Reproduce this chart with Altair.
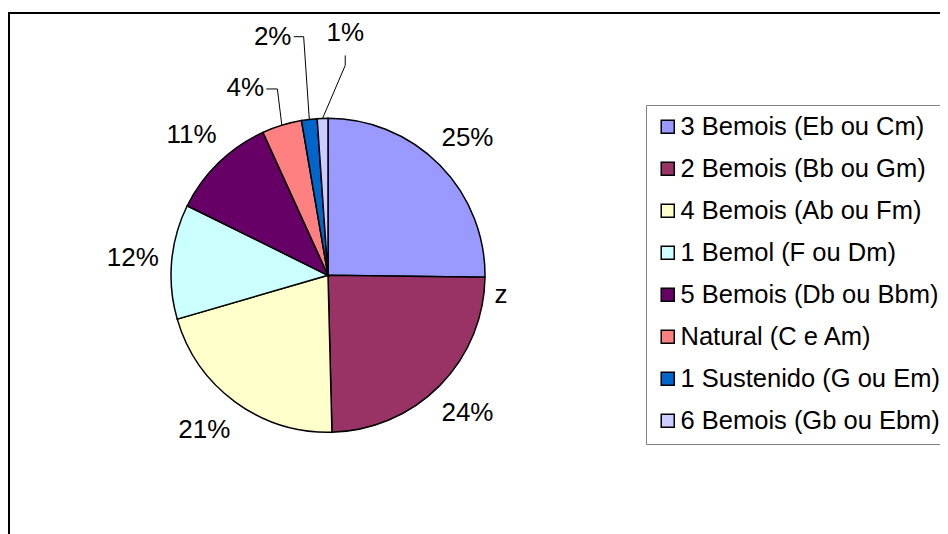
import altair as alt
import pandas as pd

# ---------------- data ----------------
categories = [
    "3 Bemois (Eb ou Cm)",
    "2 Bemois (Bb ou Gm)",
    "4 Bemois (Ab ou Fm)",
    "1 Bemol (F ou Dm)",
    "5 Bemois (Db ou Bbm)",
    "Natural (C e Am)",
    "1 Sustenido (G ou Em)",
    "6 Bemois (Gb ou Ebm)",
]
shares = [25.2, 24.4, 20.9, 11.8, 10.9, 4.1, 1.6, 1.1]
colors = ["#9999FF", "#993366", "#FFFFCC", "#CCFFFF", "#660066", "#FF8080", "#0066CC", "#CCCCFF"]
stray_text = ["z"]

df = pd.DataFrame({"cat": categories, "share": shares, "idx": list(range(len(categories)))})

# ---------------- layout (pixels, plot-area coordinates) ----------------
PAD_L, PAD_T = 1, 5
W, H = 931, 521
CX, CY = 319, 262.3
R_PIE = 157
R_LABEL = 196
FONT = "Liberation Sans"
FS = 26
LEG_FS = 25.5

# label shifts, and leader-line points relative to label centre
label_shift = {
    "4 Bemois (Ab ou Fm)": (-8, -4),
    "Natural (C e Am)": (-25, 0),
    "1 Sustenido (G ou Em)": (-32, -44),
    "6 Bemois (Gb ou Ebm)": (24, -46),
}
leader_end = {
    "Natural (C e Am)": (21, 1),
    "1 Sustenido (G ou Em)": (21, 0),
    "6 Bemois (Gb ou Ebm)": (0, 22),
}
leader_elbow = {
    "Natural (C e Am)": (32, 1),
    "1 Sustenido (G ou Em)": (31, 0),
    "6 Bemois (Gb ou Ebm)": (0, 32),
}


def pick(d, k):
    expr = "0"
    for cat, v in d.items():
        expr = f"(datum.cat === '{cat}' ? {v[k]} : {expr})"
    return expr


base = (
    alt.Chart(df)
    .transform_window(cum="sum(share)", sort=[alt.SortField("idx", order="ascending")], frame=[None, 0])
    .transform_joinaggregate(total="sum(share)")
    .transform_calculate(start="2*PI*(datum.cum - datum.share)/datum.total")
    .transform_calculate(end="2*PI*datum.cum/datum.total")
    .transform_calculate(mid="2*PI*(datum.cum - datum.share/2)/datum.total")
    .transform_calculate(pct="format(datum.share/datum.total, '.0%')")
    .transform_calculate(lx=f"{CX} + {R_LABEL}*sin(datum.mid) + {pick(label_shift, 0)}")
    .transform_calculate(ly=f"{CY} - {R_LABEL}*cos(datum.mid) + {pick(label_shift, 1)}")
    .transform_calculate(ax=f"datum.lx + {pick(leader_end, 0)}")
    .transform_calculate(ay=f"datum.ly + {pick(leader_end, 1)}")
    .transform_calculate(bx=f"datum.lx + {pick(leader_elbow, 0)}")
    .transform_calculate(by=f"datum.ly + {pick(leader_elbow, 1)}")
    .transform_calculate(ex=f"{CX} + {R_PIE}*sin(datum.mid)")
    .transform_calculate(ey=f"{CY} - {R_PIE}*cos(datum.mid)")
)

pie = base.mark_arc(radius=R_PIE, stroke="black", strokeWidth=1.5).encode(
    theta=alt.Theta("start:Q", scale=None, stack=None),
    theta2=alt.Theta2("end:Q"),
    x=alt.value(CX),
    y=alt.value(CY),
    color=alt.Color(
        "cat:N",
        scale=alt.Scale(domain=categories, range=colors),
        legend=alt.Legend(
            title=None,
            orient="none",
            legendX=637,
            legendY=92,
            labelFont=FONT,
            labelFontSize=LEG_FS,
            labelColor="black",
            labelLimit=0,
            labelOffset=0,
            symbolType="square",
            symbolSize=170,
            symbolStrokeColor="black",
            symbolStrokeWidth=1.5,
            rowPadding=15,
            padding=9,
            strokeColor="#808080",
        ),
    ),
)

labels = base.mark_text(font=FONT, fontSize=FS, align="center", baseline="middle", color="black").encode(
    x=alt.X("lx:Q", scale=None, axis=None),
    y=alt.Y("ly:Q", scale=None, axis=None),
    text="pct:N",
)

small = base.transform_filter(alt.FieldOneOfPredicate(field="cat", oneOf=list(leader_end.keys())))
lead1 = small.mark_rule(color="black", strokeWidth=1).encode(
    x=alt.X("ax:Q", scale=None, axis=None),
    y=alt.Y("ay:Q", scale=None, axis=None),
    x2="bx:Q",
    y2="by:Q",
)
lead2 = small.mark_rule(color="black", strokeWidth=1).encode(
    x=alt.X("bx:Q", scale=None, axis=None),
    y=alt.Y("by:Q", scale=None, axis=None),
    x2="ex:Q",
    y2="ey:Q",
)

stray = alt.Chart(pd.DataFrame({"t": stray_text})).mark_text(
    font=FONT, fontSize=FS, align="center", baseline="middle", color="black"
).encode(x=alt.value(492), y=alt.value(282), text="t:N")

# chart-area frame: only its top and left edges fall inside the picture
frame = alt.Chart(pd.DataFrame({"edge": ["top", "left"]}))
frame_top = frame.transform_filter("datum.edge === 'top'").mark_rule(color="black", strokeWidth=2).encode(
    x=alt.value(0), x2=alt.value(W + 5), y=alt.value(0)
)
frame_left = frame.transform_filter("datum.edge === 'left'").mark_rule(color="black", strokeWidth=2).encode(
    x=alt.value(0), y=alt.value(-1), y2=alt.value(H + 5)
)

chart = (
    alt.layer(pie, lead1, lead2, labels, stray, frame_top, frame_left)
    .properties(
        width=W,
        height=H,
        padding={"left": PAD_L, "top": PAD_T, "right": 0, "bottom": 0},
        autosize="none",
        background="white",
    )
    .configure_view(stroke=None)
)

chart.save("out.html", embed_options={"renderer": "svg", "actions": False})
